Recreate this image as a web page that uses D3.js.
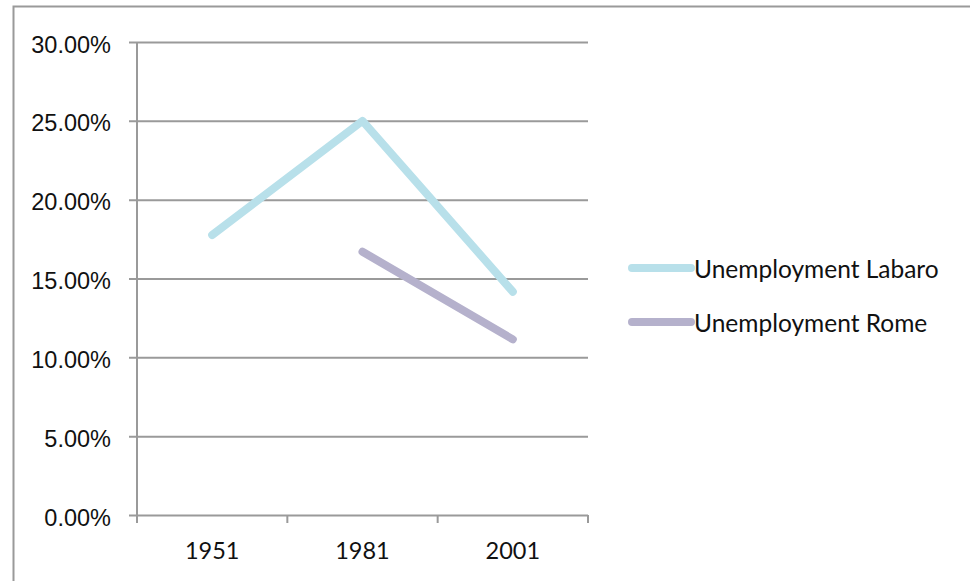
<!DOCTYPE html>
<html>
<head>
<meta charset="utf-8">
<script src="https://cdn.jsdelivr.net/npm/d3@7"></script>
<style>
  body { margin: 0; background: #fff; }
  svg { display: block; font-family: Lato, "Open Sans", sans-serif; }
</style>
</head>
<body>
<div id="chart"></div>
<script>
const years = ["1951", "1981", "2001"];
const labaro = [0.1776, 0.2500, 0.1416];
const rome = [null, 0.1670, 0.1114];
const seriesNames = ["Unemployment Labaro", "Unemployment Rome"];
const seriesColors = ["#b8e0ea", "#b5b1cc"];
const yTicks = [0, 0.05, 0.10, 0.15, 0.20, 0.25, 0.30];

const width = 970, height = 581;
const plot = { left: 137, right: 588, top: 42, bottom: 515 };

const svg = d3.select("#chart").append("svg")
  .attr("width", width)
  .attr("height", height);

// outer chart frame, only left and top edges fall inside the window
svg.append("rect")
  .attr("x", 13.5).attr("y", 6.5)
  .attr("width", 1000).attr("height", 600)
  .attr("fill", "none")
  .attr("stroke", "#9a9a9a")
  .attr("stroke-width", 2);

const x = d3.scaleBand().domain(years).range([plot.left, plot.right]);
const y = d3.scaleLinear().domain([0, 0.30]).range([plot.bottom, plot.top]);

// gridlines + y axis
const yAxis = d3.axisLeft(y)
  .tickValues(yTicks)
  .tickFormat(d3.format(".2%"))
  .tickSize(-(plot.right - plot.left))
  .tickPadding(26);

const gy = svg.append("g")
  .attr("transform", `translate(${plot.left},0)`)
  .call(yAxis);
gy.select(".domain").remove();
gy.selectAll(".tick line")
  .attr("x1", -8)
  .attr("stroke", "#9a9a9a")
  .attr("stroke-width", 2);
gy.selectAll(".tick text")
  .attr("fill", "#111")
  .attr("font-size", 23.5)
  .attr("dy", "0.43em");

svg.append("line")
  .attr("x1", plot.left).attr("x2", plot.left)
  .attr("y1", plot.top).attr("y2", plot.bottom)
  .attr("stroke", "#9a9a9a").attr("stroke-width", 2);

// x axis ticks at band edges
const gx = svg.append("g")
  .attr("transform", `translate(0,${plot.bottom})`);
gx.selectAll("line")
  .data(x.domain().map(d => x(d)).concat([plot.right]))
  .join("line")
  .attr("x1", d => d).attr("x2", d => d)
  .attr("y1", 0).attr("y2", 8)
  .attr("stroke", "#9a9a9a").attr("stroke-width", 2);
gx.selectAll("text")
  .data(years)
  .join("text")
  .attr("x", d => x(d) + x.bandwidth() / 2)
  .attr("y", 44)
  .attr("text-anchor", "middle")
  .attr("fill", "#111")
  .attr("font-size", 23.5)
  .text(d => d);

// series lines
const line = d3.line()
  .defined(d => d.v != null)
  .x(d => x(d.year) + x.bandwidth() / 2)
  .y(d => y(d.v));

[labaro, rome].forEach((vals, i) => {
  svg.append("path")
    .datum(years.map((yr, j) => ({ year: yr, v: vals[j] })))
    .attr("d", line)
    .attr("fill", "none")
    .attr("stroke", seriesColors[i])
    .attr("stroke-width", 8)
    .attr("stroke-linecap", "round")
    .attr("stroke-linejoin", "round");
});

// legend
const legend = svg.append("g")
  .selectAll("g")
  .data(seriesNames)
  .join("g")
  .attr("transform", (d, i) => `translate(632,${268 + i * 54})`);
legend.append("line")
  .attr("x1", 0).attr("x2", 59)
  .attr("stroke", (d, i) => seriesColors[i])
  .attr("stroke-width", 8)
  .attr("stroke-linecap", "round");
legend.append("text")
  .attr("x", 62)
  .attr("dy", "0.42em")
  .attr("fill", "#111")
  .attr("font-size", 24.5)
  .text(d => d);
</script>
</body>
</html>
